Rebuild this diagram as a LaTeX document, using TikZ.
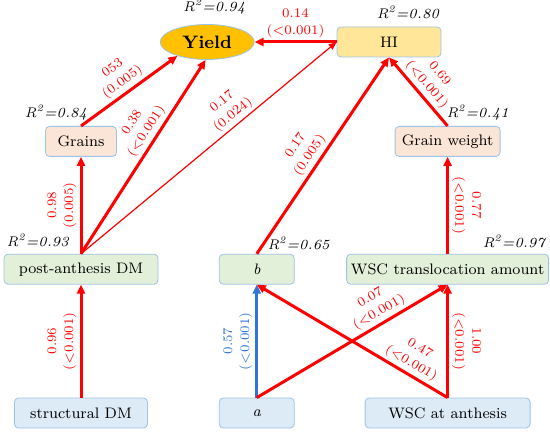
\documentclass[tikz,border=0pt]{standalone}
\usepackage{xcolor}
\usetikzlibrary{arrows.meta, positioning, shapes.geometric}

\definecolor{pathred}{RGB}{255,0,0}
\definecolor{pathblue}{RGB}{46,117,214}
\definecolor{edgeblue}{RGB}{157,195,230}
\definecolor{inblue}{RGB}{221,235,247}
\definecolor{midgreen}{RGB}{226,240,217}
\definecolor{comppeach}{RGB}{251,229,214}
\definecolor{hiyellow}{RGB}{255,230,153}
\definecolor{yieldorange}{RGB}{255,192,0}

\newcommand{\rsq}[1]{\textit{R}\textsuperscript{\textit{2}}\textit{=#1}}

\begin{document}
\begin{tikzpicture}[
    box/.style={rectangle, draw=edgeblue, thin, rounded corners=2pt, minimum height=15pt, inner sep=1pt, font=\fontsize{7.6}{9}\selectfont},
    inbox/.style={box, fill=inblue},
    midbox/.style={box, fill=midgreen},
    compbox/.style={box, fill=comppeach},
    hibox/.style={box, fill=hiyellow},
    yieldnode/.style={ellipse, draw=edgeblue, thin, fill=yieldorange, minimum width=47pt, minimum height=17.5pt, inner sep=0pt, font=\fontsize{9}{10}\selectfont\bfseries},
    rsq/.style={inner sep=0pt, font=\fontsize{7}{8}\selectfont},
    line/.style={draw=pathred, line width=1.5pt, -{Triangle[length=4.5pt, width=4pt]}},
    thinline/.style={draw=pathred, line width=0.6pt, -{Triangle[length=4pt, width=3.2pt]}},
    coef/.style={anchor=south, align=center, inner sep=1.5pt, text=pathred, font=\fontsize{6.6}{8.5}\selectfont},
    along/.style={coef, sloped}
]
    \useasboundingbox (0,0) rectangle (275pt,-216pt);

    \node[inbox, minimum width=66.5pt] (structural) at (40.5pt,-206.5pt) {structural DM};
    \node[inbox, minimum width=37.5pt, right=35.5pt of structural] (a) {\textit{a}};
    \node[inbox, minimum width=82.5pt, right=35pt of a] (wscanth) {WSC at anthesis};

    \node[midbox, minimum width=77pt, above=56.5pt of structural] (postdm) {post-anthesis DM};
    \node[midbox, minimum width=37.5pt, above=56.5pt of a] (b) {\textit{b}};
    \node[midbox, minimum width=101pt, above=56.5pt of wscanth] (wsctrans) {WSC translocation amount};

    \node[compbox, minimum width=35.5pt, above=48.5pt of postdm] (grains) {Grains};
    \node[compbox, minimum width=52.5pt, above=48.5pt of wsctrans] (grainw) {Grain weight};

    \node[hibox, minimum width=52pt] (hi) at (194.5pt,-21pt) {HI};
    \node[yieldnode, left=41pt of hi] (yield) {Yield};

    % R^2 of each variable
    \node[rsq, above=4.5pt of yield, xshift=3.5pt] (yieldr) {\rsq{0.94}};
    \node[rsq, above=3.5pt of hi, xshift=9.5pt] (hir) {\rsq{0.80}};
    \node[rsq, above=2.5pt of grains, xshift=-12.5pt] (grainsr) {\rsq{0.84}};
    \node[rsq, above=2.5pt of grainw, xshift=15pt] (grainwr) {\rsq{0.41}};
    \node[rsq, above=3.5pt of postdm, xshift=-21.5pt] (postdmr) {\rsq{0.93}};
    \node[rsq, above=2pt of b, xshift=21pt] (br) {\rsq{0.65}};
    \node[rsq, above=3pt of wsctrans, xshift=33.5pt] (wsctransr) {\rsq{0.97}};

    % Connections
    \draw[line] (structural.north) -- node[along] {0.96\\(<0.001)} (postdm.south);
    \draw[line] (postdm.north) -- node[along] {0.98\\(0.005)} (grains.south);
    \draw[line] (grains.north) -- node[along] {053\\(0.005)} (yield.205);
    \draw[line] (postdm.north) -- node[along, pos=0.6] {0.38\\(<0.001)} (yield.265);
    \draw[thinline] (postdm.north) -- node[along, pos=0.62] {0.17\\(0.024)} (hi.west);
    \draw[line] (hi.west) -- node[coef] {0.14\\(<0.001)} (yield.east);
    \draw[line] (b.north) -- node[along, pos=0.47] {0.17\\(0.005)} (hi.south);
    \draw[line] (grainw.north) -- node[along] {0.69\\(<0.001)} (hi.south);
    \draw[line] (wsctrans.north) -- node[coef, rotate=-90] {0.77\\(<0.001)} (grainw.south);
    \draw[line, draw=pathblue] (a.north) -- node[along, text=pathblue] {0.57\\(<0.001)} (b.south);
    \draw[line] (a.north) -- node[along, pos=0.67] {0.07\\(<0.001)} (wsctrans.south);
    \draw[line] (wscanth.north) -- node[coef, rotate=-90] {1.00\\(<0.001)} (wsctrans.south);
    \draw[line] (wscanth.north) -- node[along, pos=0.22] {0.47\\(<0.001)} (b.south);
\end{tikzpicture}
\end{document}
